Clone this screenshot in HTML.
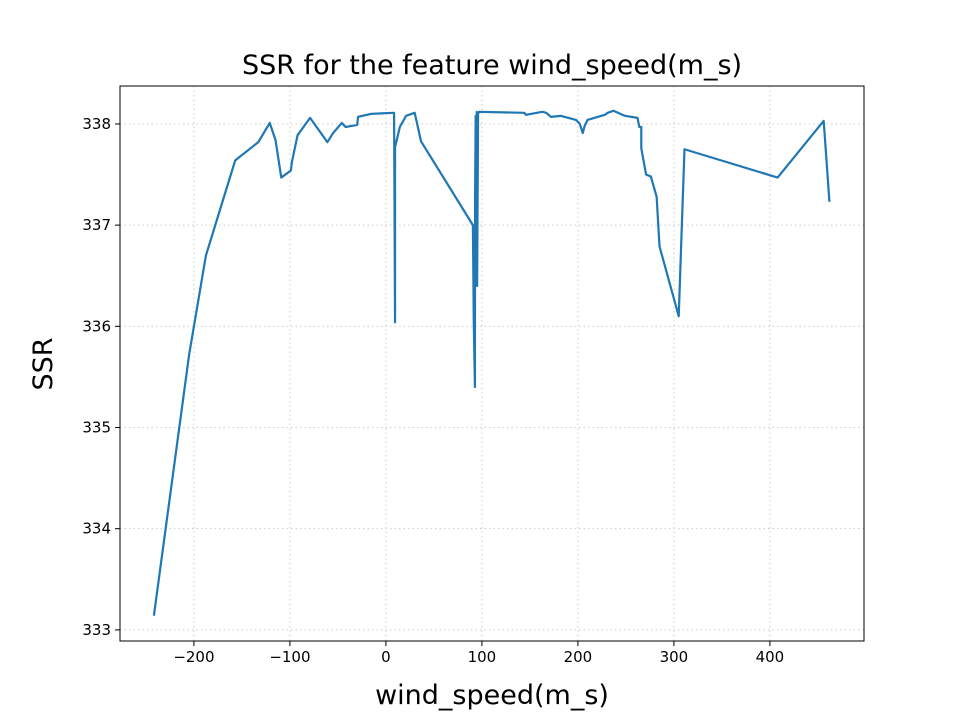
<!DOCTYPE html>
<html><head><meta charset="utf-8"><style>
body{margin:0;background:#fff;font-family:"Liberation Sans","DejaVu Sans",sans-serif;}
svg text{font-family:"DejaVu Sans","Liberation Sans",sans-serif;}
</style></head><body>
<svg id="chart" width="960" height="720"></svg>
<script>
const xVals=[-241.7,-205,-187.5,-157,-133,-121,-115,-109,-99,-98,-92,-79,-61,-55,-46,-42,-30,-29,-15,8.5,9.5,9.5,14.5,21,30,36.5,90.6,91.5,92.7,92.9,93.5,94.2,94.6,95,96,97,144,146,163,167,172,182,198,202,205,207,210,228,231,237,249,262,264,266,266,271,276,282,285,305,311,408,456,462];
const ssrVals=[333.14,335.72,336.7,337.64,337.82,338.01,337.84,337.47,337.54,337.62,337.89,338.06,337.82,337.91,338.01,337.97,337.99,338.07,338.1,338.11,336.04,337.77,337.97,338.08,338.11,337.83,337.0,336.06,335.4,337.3,338.08,336.6,338.12,336.4,338.1,338.12,338.11,338.09,338.12,338.11,338.07,338.08,338.04,338.0,337.91,337.98,338.04,338.09,338.11,338.13,338.08,338.06,337.97,337.97,337.76,337.5,337.48,337.28,336.79,336.1,337.75,337.47,338.03,337.23];
const xTicks=[-200,-100,0,100,200,300,400];
const yTicks=[333,334,335,336,337,338];
const L=120,R=864,T=86,B=641,xMin=-277,xMax=498,yMin=332.89,yMax=338.375;
const sx=v=>L+(v-xMin)/(xMax-xMin)*(R-L);
const sy=v=>B-(v-yMin)/(yMax-yMin)*(B-T);
const svg=document.getElementById('chart');const NS='http://www.w3.org/2000/svg';
function mk(t,a,p){const e=document.createElementNS(NS,t);for(const k in a)e.setAttribute(k,a[k]);(p||svg).appendChild(e);return e;}
xTicks.forEach(v=>{const x=sx(v);
const g=mk('line',{x1:x,x2:x,y1:T,y2:B,stroke:'#ccc','stroke-dasharray':'1.5,3','stroke-width':1});

mk('line',{x1:x,x2:x,y1:B,y2:B+5,stroke:'#000'});
const t=mk('text',{x:x,y:B+21,'text-anchor':'middle','font-size':15});t.textContent=v<0?'\u2212'+(-v):v;
});
yTicks.forEach(v=>{const y=sy(v);
const g=mk('line',{x1:L,x2:R,y1:y,y2:y,stroke:'#ccc','stroke-dasharray':'1.5,3','stroke-width':1});

mk('line',{x1:L-5,x2:L,y1:y,y2:y,stroke:'#000'});
const t=mk('text',{x:L-9,y:y+5,'text-anchor':'end','font-size':15});t.textContent=v;
});
const pl=mk('polyline',{points:xVals.map((v,i)=>sx(v)+','+sy(ssrVals[i])).join(' '),fill:'none',stroke:'#1f77b4','stroke-width':2.2,'stroke-linejoin':'round'});

const fr=mk('rect',{x:L,y:T,width:R-L,height:B-T,fill:'none',stroke:'#000','stroke-width':1});

let t=mk('text',{x:492,y:74,'text-anchor':'middle','font-size':27});t.textContent='SSR for the feature wind_speed(m_s)';

t=mk('text',{x:492,y:704,'text-anchor':'middle','font-size':27});t.textContent='wind_speed(m_s)';

t=mk('text',{x:52,y:364,'text-anchor':'middle','font-size':27,transform:'rotate(-90 52 364)'});t.textContent='SSR';

</script>
</body></html>
